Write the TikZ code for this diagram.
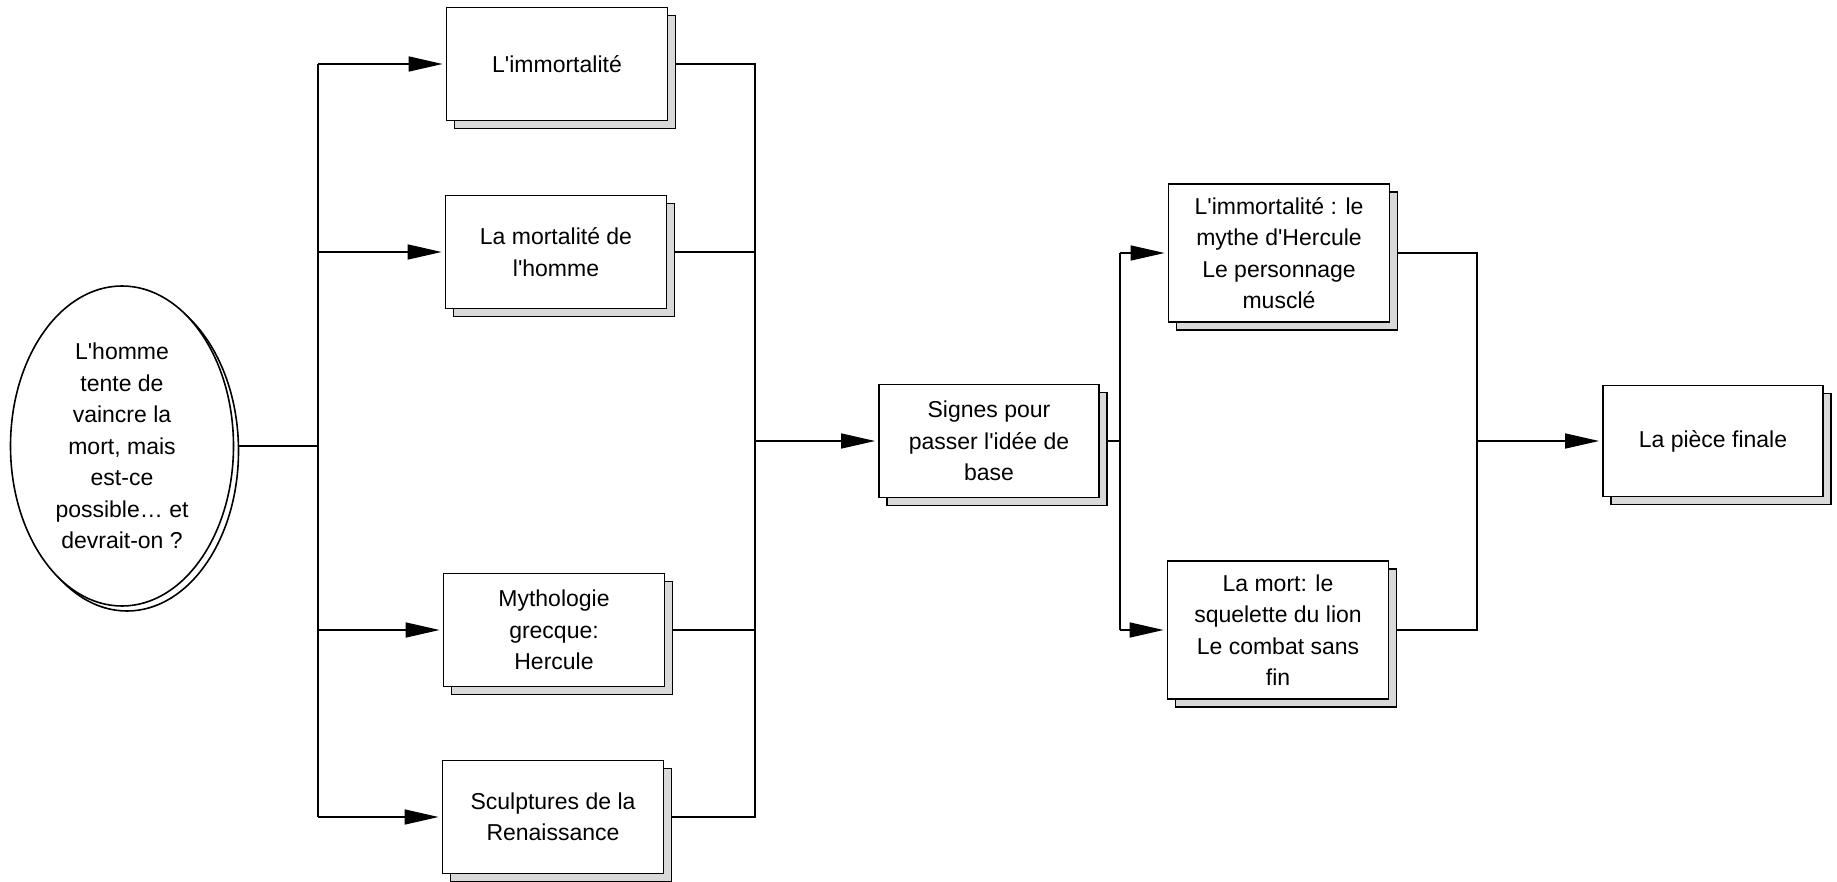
\documentclass[tikz,border=0pt]{standalone}
\usepackage{fontspec}
\setmainfont{Liberation Sans}[Ligatures=TeXOff]
\usetikzlibrary{arrows.meta,shapes.geometric,shadows,backgrounds}

\begin{document}
\begin{tikzpicture}[x=1pt,y=-1pt,
  every node/.style={font=\fontsize{23}{31.5}\selectfont, align=center, inner sep=0pt},
  card/.style={rectangle, draw=black, line width=1.8pt, fill=white,
    minimum width=221pt, minimum height=113pt,
    copy shadow={shadow xshift=8pt, shadow yshift=-8pt, fill=gray!30, draw=black, line width=1.8pt}},
  tallcard/.style={card, minimum height=138pt},
  oval/.style={ellipse, draw=black, line width=1.6pt, fill=white,
    minimum width=223pt, minimum height=320pt,
    copy shadow={shadow xshift=5pt, shadow yshift=-5pt, fill=white, draw=black, line width=1.6pt}},
  conn/.style={line width=1.6pt},
  arr/.style={conn, -{Triangle[length=34pt,width=15pt]}, shorten >=3pt}
]
\useasboundingbox (0,0) rectangle (1837,882);

% question
\node[oval] (q) at (122,446) {L'homme\\tente de\\vaincre la\\mort, mais\\est-ce\\possible… et\\devrait-on ?};

% first column of themes
\node[card] (b1) at (557,64)  {L'immortalité};
\node[card] (b2) at (556,252) {La mortalité de\\l'homme};
\node[card] (b3) at (554,630) {Mythologie\\grecque:\\Hercule};
\node[card] (b4) at (553,817) {Sculptures de la\\Renaissance};

% signs
\node[card, minimum width=220pt] (s) at (989,441) {Signes pour\\passer l'idée de\\base};

% second column
\node[tallcard] (r1) at (1279,253) {L'immortalité : le\\mythe d'Hercule\\Le personnage\\musclé};
\node[tallcard] (r2) at (1278,630) {La mort: le\\squelette du lion\\Le combat sans\\fin};

% result
\node[card, minimum width=220pt, minimum height=111pt] (f) at (1713,441) {La pièce finale};

% bus lines
\coordinate (busA) at (318,446);
\coordinate (busB) at (755,441);
\coordinate (busC) at (1120,441);
\coordinate (busD) at (1477,441);

\begin{pgfonlayer}{background}
  % question to the four themes
  \draw[conn] (q.east) -- (busA);
  \draw[conn] (busA |- b1.west) -- (busA |- b4.west);
  \foreach \b in {b1,b2,b3,b4}
    \draw[arr] (busA |- \b.west) -- (\b.west);

  % themes gathered into the signs
  \draw[conn] (b1.east) -- (b1.east -| busB) -- (b4.east -| busB) -- (b4.east);
  \draw[conn] (b2.east) -- (b2.east -| busB);
  \draw[conn] (b3.east) -- (b3.east -| busB);
  \draw[arr] (busB |- s.west) -- (s.west);

  % signs split in two
  \draw[conn] (s.east) -- (s.east -| busC);
  \draw[conn] (busC |- r1.west) -- (busC |- r2.west);
  \draw[arr] (busC |- r1.west) -- (r1.west);
  \draw[arr] (busC |- r2.west) -- (r2.west);

  % both ideas lead to the final piece
  \draw[conn] (r1.east) -- (r1.east -| busD) -- (r2.east -| busD) -- (r2.east);
  \draw[arr] (busD |- f.west) -- (f.west);
\end{pgfonlayer}
\end{tikzpicture}
\end{document}
